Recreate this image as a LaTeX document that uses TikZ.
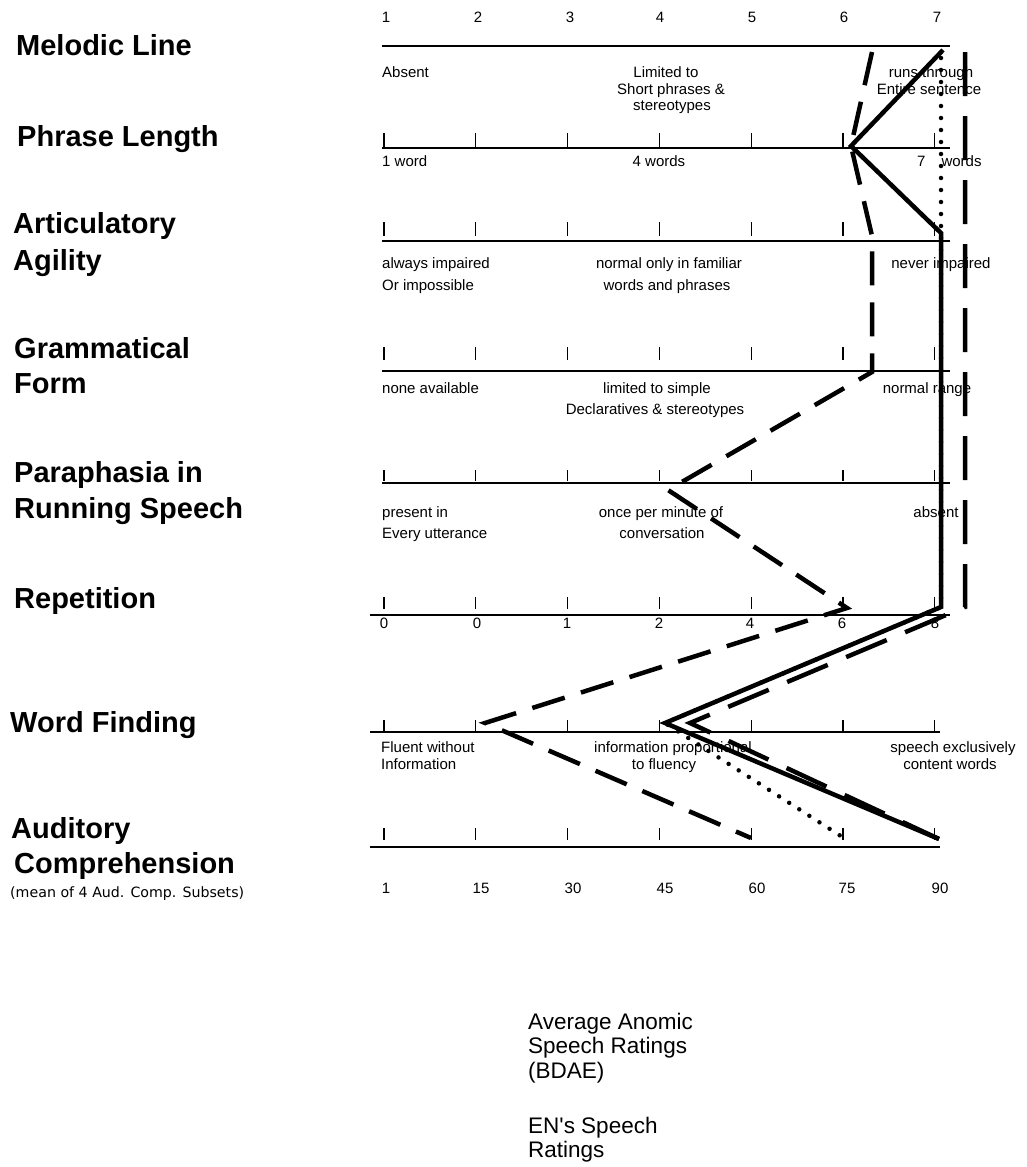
\documentclass[tikz,border=0pt]{standalone}
\usepackage{fontspec}
\setmainfont{Liberation Sans}
\newfontfamily\notefont{DejaVu Sans}
\newfontfamily\legendfont{Liberation Sans}[Ligatures=TeXOff]
\begin{document}
\begin{tikzpicture}[x=1pt,y=-1pt,
  cat/.style={anchor=base west, inner sep=0pt, font=\fontsize{29}{34}\selectfont\bfseries},
  lab/.style={anchor=base, inner sep=0pt, font=\fontsize{15}{17}\selectfont},
  labw/.style={lab, anchor=base west},
  legtext/.style={anchor=base west, inner sep=0pt, font=\legendfont\fontsize{22.5}{26}\selectfont},
  scaleline/.style={line width=2pt},
  tickmark/.style={line width=1.2pt},
  solidrating/.style={line width=4.5pt, line join=miter},
  dashrating/.style={line width=4.5pt, line join=miter, dash pattern=on 34pt off 17pt},
  dashrightrating/.style={line width=4.5pt, line join=miter, dash pattern=on 44pt off 20pt},
  dotrating/.style={line width=4.5pt, line cap=round, dash pattern=on 0pt off 12pt}
]
\useasboundingbox (0,0) rectangle (1026,1167);

% ---- category labels ----
\node[cat] (cMel) at (16,55) {Melodic Line};
\node[cat] (cPhr) at (17,146) {Phrase Length};
\node[cat] (cArt1) at (13,233) {Articulatory};
\node[cat] (cArt2) at (13,270) {Agility};
\node[cat] (cGra1) at (14,358) {Grammatical};
\node[cat] (cGra2) at (14,393) {Form};
\node[cat] (cPar1) at (14,482) {Paraphasia in};
\node[cat] (cPar2) at (14,518) {Running Speech};
\node[cat] (cRep) at (14,608) {Repetition};
\node[cat] (cWor) at (10,732) {Word Finding};
\node[cat] (cAud1) at (11,838) {Auditory};
\node[cat] (cAud2) at (14,873) {Comprehension};
\node[anchor=base west, inner sep=0pt, font=\notefont\fontsize{14.2}{16}\selectfont] (cAudNote) at (10,897) {(mean of 4 Aud. Comp. Subsets)};

% ---- scale lines ----
\draw[scaleline] (382,46) -- (950,46);
\draw[scaleline] (382,148) -- (950,148);
\draw[scaleline] (382,241) -- (950,241);
\draw[scaleline] (382,371) -- (950,371);
\draw[scaleline] (382,483) -- (950,483);
\draw[scaleline] (370,615) -- (950,615);
\draw[scaleline] (370,732) -- (940,732);
\draw[scaleline] (370,847) -- (940,847);

% ---- ticks ----
\foreach \i in {0,...,6}{
  \pgfmathsetmacro{\tx}{384+91.8*\i}
  \draw[tickmark] (\tx,133) -- (\tx,147);
  \draw[tickmark] (\tx,222) -- (\tx,236);
  \draw[tickmark] (\tx,347) -- (\tx,360);
  \draw[tickmark] (\tx,470) -- (\tx,481);
  \draw[tickmark] (\tx,597) -- (\tx,609);
  \draw[tickmark] (\tx,720) -- (\tx,731);
  \draw[tickmark] (\tx,828) -- (\tx,840);
}

% ---- top numbers ----
\node[lab] (n1) at (386,23) {1};
\node[lab] (n2) at (478,23) {2};
\node[lab] (n3) at (570,23) {3};
\node[lab] (n4) at (660,23) {4};
\node[lab] (n5) at (752,23) {5};
\node[lab] (n6) at (844,23) {6};
\node[lab] (n7) at (937,23) {7};

% ---- melodic line labels ----
\node[labw] (m1) at (382,77) {Absent};
\node[lab] (m2a) at (666,77) {Limited to};
\node[lab] (m2b) at (671,94) {Short phrases \&};
\node[lab] (m2c) at (672,110) {stereotypes};
\node[lab] (m3a) at (931,77) {runs through};
\node[lab] (m3b) at (929,94) {Entire sentence};

% ---- phrase length labels ----
\node[labw] (p1) at (382,166) {1 word};
\node[lab] (p2) at (659,166) {4 words};
\node[labw] (p3) at (917,166) {7\hspace{16pt}words};

% ---- articulatory agility labels ----
\node[labw] (a1t) at (382,268) {always impaired};
\node[labw] (a1u) at (382,290) {Or impossible};
\node[lab] (a2t) at (669,268) {normal only in familiar};
\node[lab] (a2u) at (667,290) {words and phrases};
\node[lab] (a3t) at (941,268) {never impaired};

% ---- grammatical form labels ----
\node[labw] (g1) at (382,393) {none available};
\node[lab] (g2a) at (657,393) {limited to simple};
\node[lab] (g2b) at (655,414) {Declaratives \& stereotypes};
\node[lab] (g3) at (927,393) {normal range};

% ---- paraphasia labels ----
\node[labw] (r1a) at (382,517) {present in};
\node[labw] (r1b) at (382,538) {Every utterance};
\node[lab] (r2a) at (661,517) {once per minute of};
\node[lab] (r2b) at (662,538) {conversation};
\node[lab] (r3) at (936,517) {absent};

% ---- repetition numbers ----
\node[lab] (e1) at (384,628) {0};
\node[lab] (e2) at (477,628) {0};
\node[lab] (e3) at (567,628) {1};
\node[lab] (e4) at (659,628) {2};
\node[lab] (e5) at (750,628) {4};
\node[lab] (e6) at (842,628) {6};
\node[lab] (e7) at (935,628) {8};

% ---- word finding labels ----
\node[labw] (w1a) at (381,752) {Fluent without};
\node[labw] (w1b) at (381,769) {Information};
\node[lab] (w2a) at (673,752) {information proportional};
\node[lab] (w2b) at (664,769) {to fluency};
\node[lab] (w3a) at (953,752) {speech exclusively};
\node[lab] (w3b) at (950,769) {content words};

% ---- auditory comprehension numbers ----
\node[lab] (u1) at (386,893) {1};
\node[lab] (u2) at (481,893) {15};
\node[lab] (u3) at (573,893) {30};
\node[lab] (u4) at (665,893) {45};
\node[lab] (u5) at (757,893) {60};
\node[lab] (u6) at (847,893) {75};
\node[lab] (u7) at (940,893) {90};

% ---- legend text ----
\node[legtext] (l1) at (528,1029) {Average Anomic};
\node[legtext] (l2) at (528,1053) {Speech Ratings};
\node[legtext] (l3) at (528,1078) {(BDAE)};
\node[legtext] (l4) at (528,1133) {EN's Speech};
\node[legtext] (l5) at (528,1157) {Ratings};

% ---- rating profile vertices ----
\coordinate (s1) at (943,50);
\coordinate (s2) at (851,146);
\coordinate (s3) at (941,233);
\coordinate (s4) at (941,607);
\coordinate (s5) at (665,723);
\coordinate (s6) at (939,839);

\coordinate (da1) at (872,52);
\coordinate (da2) at (851,146);
\coordinate (da3) at (872,236);
\coordinate (da4) at (872,372);
\coordinate (da5) at (668,490);
\coordinate (da6) at (847,608);
\coordinate (da7) at (485,723);
\coordinate (da8) at (751,838);

\coordinate (db1) at (965,52);
\coordinate (db2) at (965,607);
\coordinate (db3) at (690,723);
\coordinate (db4) at (939,839);

\coordinate (dt1) at (941,58);
\coordinate (dt2) at (941,607);
\coordinate (dt3) at (665,723);
\coordinate (dt4) at (847,840);

% ---- rating profiles ----
\draw[dotrating] (dt1) -- (dt2) -- (dt3) -- (dt4);
\draw[dashrating] (da1) -- (da2) -- (da3) -- (da4) -- (da5) -- (da6) -- (da7) -- (da8);
\draw[dashrightrating] (db1) -- (db2) -- (db3) -- (db4);
\draw[solidrating] (s1) -- (s2) -- (s3) -- (s4) -- (s5) -- (s6);
\end{tikzpicture}
\end{document}
